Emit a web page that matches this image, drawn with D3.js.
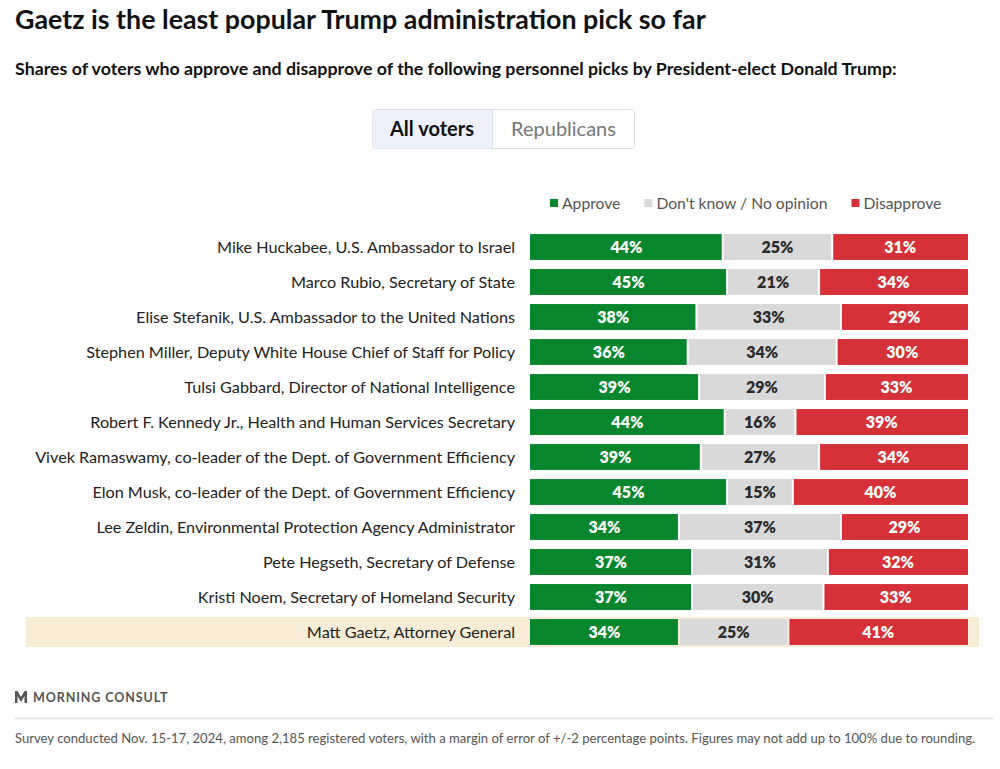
<!DOCTYPE html>
<html>
<head>
<meta charset="utf-8">
<script src="https://cdn.jsdelivr.net/npm/d3@7"></script>
<style>
  body { margin: 0; background: #fff; }
  svg { display: block; font-family: Lato, "Open Sans", sans-serif; }
</style>
</head>
<body>
<div id="chart"></div>
<script>
const picks = [
  "Mike Huckabee, U.S. Ambassador to Israel",
  "Marco Rubio, Secretary of State",
  "Elise Stefanik, U.S. Ambassador to the United Nations",
  "Stephen Miller, Deputy White House Chief of Staff for Policy",
  "Tulsi Gabbard, Director of National Intelligence",
  "Robert F. Kennedy Jr., Health and Human Services Secretary",
  "Vivek Ramaswamy, co-leader of the Dept. of Government Efficiency",
  "Elon Musk, co-leader of the Dept. of Government Efficiency",
  "Lee Zeldin, Environmental Protection Agency Administrator",
  "Pete Hegseth, Secretary of Defense",
  "Kristi Noem, Secretary of Homeland Security",
  "Matt Gaetz, Attorney General"
];
const approve    = [44, 45, 38, 36, 39, 44, 39, 45, 34, 37, 37, 34];
const dontKnow   = [25, 21, 33, 34, 29, 16, 27, 15, 37, 31, 30, 25];
const disapprove = [31, 34, 29, 30, 33, 39, 34, 40, 29, 32, 33, 41];
const seriesNames = ["Approve", "Don't know / No opinion", "Disapprove"];
const highlighted = "Matt Gaetz, Attorney General";

const W = 1000, H = 769;
const colors = ["#07862d", "#d9d9d9", "#d63038"];
const textColors = ["#fff", "#2b2b2b", "#fff"];

const svg = d3.select("#chart").append("svg")
  .attr("width", W).attr("height", H)
  .attr("viewBox", `0 0 ${W} ${H}`);

// title + subtitle
svg.append("text").attr("x", 15).attr("y", 29)
  .style("font-size", "26.8px").style("font-weight", 700).style("fill", "#111")
  .text("Gaetz is the least popular Trump administration pick so far");
svg.append("text").attr("x", 15).attr("y", 75)
  .style("font-size", "17.8px").style("font-weight", 700).style("fill", "#111")
  .text("Shares of voters who approve and disapprove of the following personnel picks by President-elect Donald Trump:");

// toggle buttons
const tog = svg.append("g");
tog.append("rect").attr("x", 372.5).attr("y", 109.5).attr("width", 262).attr("height", 39)
  .attr("rx", 3).style("fill", "#fff").style("stroke", "#dcdfe4");
tog.append("path").attr("d", "M492,110 H375.5 a3,3 0 0 0 -3,3 V145.5 a3,3 0 0 0 3,3 H492 Z")
  .style("fill", "#eef1fb");
tog.append("line").attr("x1", 492.5).attr("x2", 492.5).attr("y1", 110).attr("y2", 148)
  .style("stroke", "#dcdfe4");
tog.append("text").attr("x", 432).attr("y", 135.5).attr("text-anchor", "middle")
  .style("font-size", "20px").style("font-weight", 700).style("fill", "#111").text("All voters");
tog.append("text").attr("x", 563.5).attr("y", 135.5).attr("text-anchor", "middle")
  .style("font-size", "20px").style("fill", "#777").text("Republicans");

// scales
const y = d3.scaleBand().domain(picks).range([229.5, 649.5]).paddingInner(0.26).paddingOuter(0.13);
const x = d3.scaleLinear().domain([0, 1]).range([530, 968]);

const rows = picks.map((p, i) => {
  const vals = [approve[i], dontKnow[i], disapprove[i]];
  const total = d3.sum(vals);
  let acc = 0;
  return {
    name: p,
    segs: vals.map((v, k) => {
      const s = { k, v, x0: acc / total, x1: (acc + v) / total };
      acc += v;
      return s;
    })
  };
});

// highlighted row band
svg.append("rect")
  .attr("x", 26).attr("width", 953)
  .attr("y", y(highlighted) + y.bandwidth() / 2 - 15)
  .attr("height", 30)
  .style("fill", "#f7ecd6");

// legend
const leg = svg.append("g").attr("transform", "translate(550,203)");
let lx = 0;
seriesNames.forEach((n, k) => {
  const g = leg.append("g").attr("transform", `translate(${lx},0)`);
  g.append("rect").attr("x", 0).attr("y", -4).attr("width", 8).attr("height", 8).style("fill", colors[k]);
  const t = g.append("text").attr("x", 12).attr("y", 5.5)
    .style("font-size", "15.7px").style("fill", "#555").text(n);
  lx += 12 + t.node().getComputedTextLength() + 24;
});

// category labels
svg.append("g").selectAll("text").data(picks).join("text")
  .attr("x", 515).attr("y", d => y(d) + y.bandwidth() / 2 + 5.5)
  .attr("text-anchor", "end")
  .style("font-size", "16.2px").style("fill", "#222")
  .text(d => d);

// bars
const rowG = svg.append("g").selectAll("g").data(rows).join("g")
  .attr("transform", d => `translate(0,${y(d.name)})`);
rowG.selectAll("rect").data(d => d.segs).join("rect")
  .attr("x", d => x(d.x0) + (d.k > 0 ? 1 : 0))
  .attr("width", d => x(d.x1) - x(d.x0) - (d.k > 0 ? 1 : 0) - (d.k < 2 ? 1 : 0))
  .attr("height", y.bandwidth())
  .style("fill", d => colors[d.k]);
rowG.selectAll("text").data(d => d.segs).join("text")
  .attr("x", d => (x(d.x0) + x(d.x1)) / 2)
  .attr("y", y.bandwidth() / 2 + 6)
  .attr("text-anchor", "middle")
  .style("font-size", "16px").style("font-weight", 800)
  .style("fill", d => textColors[d.k])
  .text(d => d.v + "%");

// logo
const logo = svg.append("g").attr("transform", "translate(15,691)");
logo.append("path")
  .attr("d", "M0,0 L2.5,0 L6,6 L9.5,0 L12,0 L12,12 L9.5,12 L9.5,5 L6,11 L2.5,5 L2.5,12 L0,12 Z")
  .style("fill", "#555");
svg.append("text").attr("x", 33).attr("y", 702)
  .style("font-size", "12.5px").style("font-weight", 700).style("letter-spacing", "0.9px")
  .style("fill", "#555").text("MORNING CONSULT");

// footer
svg.append("line").attr("x1", 15).attr("x2", 993).attr("y1", 718.5).attr("y2", 718.5)
  .style("stroke", "#e3e3e3").style("stroke-width", 1.5);
svg.append("text").attr("x", 15).attr("y", 743)
  .style("font-size", "13.1px").style("fill", "#555")
  .text("Survey conducted Nov. 15-17, 2024, among 2,185 registered voters, with a margin of error of +/-2 percentage points. Figures may not add up to 100% due to rounding.");
</script>
</body>
</html>
